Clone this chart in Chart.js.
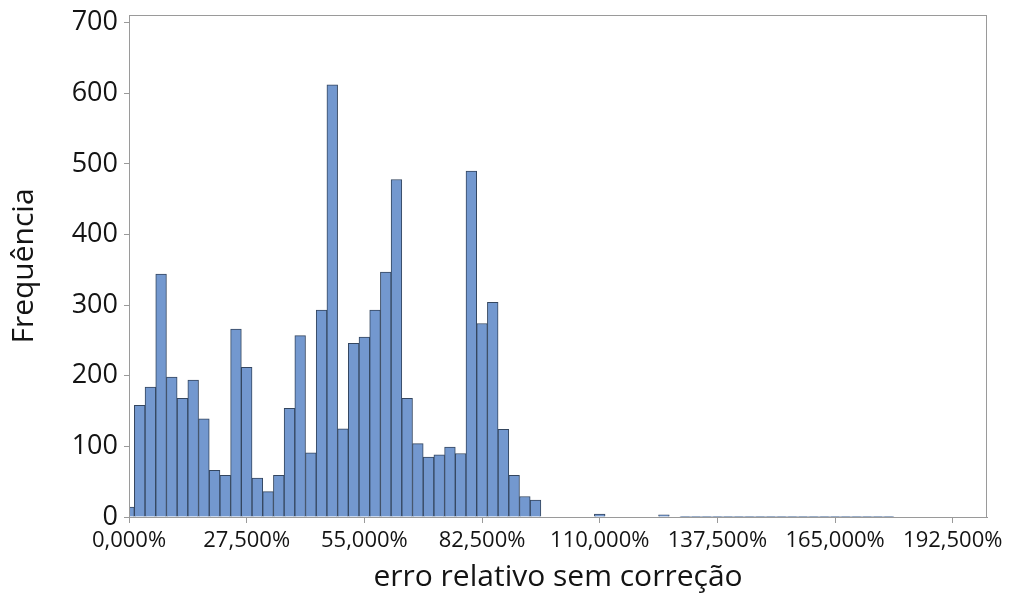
<!DOCTYPE html>
<html>
<head>
<meta charset="utf-8">
<script src="https://cdn.jsdelivr.net/npm/chart.js@4.4.1/dist/chart.umd.min.js"></script>
<style>
    html, body { margin: 0; padding: 0; background: #fff; }
    #wrap { width: 1010px; height: 595px; }
</style>
</head>
<body>
<div id="wrap"><canvas id="histChart" width="1010" height="595"></canvas></div>
<script>
const binCenters = [
    0, 2.5, 5, 7.5, 10, 12.5, 15, 17.5, 20, 22.5,
    25, 27.5, 30, 32.5, 35, 37.5, 40, 42.5, 45, 47.5,
    50, 52.5, 55, 57.5, 60, 62.5, 65, 67.5, 70, 72.5,
    75, 77.5, 80, 82.5, 85, 87.5, 90, 92.5, 95,
    110, 125,
    130, 132.5, 135, 137.5, 140, 142.5, 145, 147.5, 150, 152.5,
    155, 157.5, 160, 162.5, 165, 167.5, 170, 172.5, 175, 177.5
];
const frequencies = [
    14, 158, 184, 344, 198, 168, 194, 139, 66, 59,
    266, 212, 55, 36, 59, 154, 257, 91, 293, 612,
    125, 246, 255, 293, 347, 478, 168, 104, 85, 88,
    99, 90, 490, 274, 304, 124, 59, 29, 24,
    4, 3,
    1, 1, 1, 1, 1, 1, 1, 1, 1, 1,
    1, 1, 1, 1, 1, 1, 1, 1, 1, 1
];
const xTicks = [0, 27.5, 55, 82.5, 110, 137.5, 165, 192.5];
const yTicks = [0, 100, 200, 300, 400, 500, 600, 700];

const axisGray = '#9a9a9a';
const textColor = '#141414';
const fontFamily = '"Open Sans", "Noto Sans", sans-serif';

// moldura em volta da área do gráfico
const frame = {
    id: 'frame',
    afterDraw(chart) {
        const { ctx, chartArea: a } = chart;
        ctx.save();
        ctx.strokeStyle = axisGray;
        ctx.lineWidth = 1;
        ctx.strokeRect(a.left + 0.5, a.top + 0.5, a.right - a.left - 1, a.bottom - a.top);
        ctx.restore();
    }
};

const ctx = document.getElementById('histChart').getContext('2d');
new Chart(ctx, {
    type: 'bar',
    data: {
        datasets: [{
            data: binCenters.map((c, i) => ({ x: c, y: frequencies[i] })),
            backgroundColor: '#7398cf',
            borderColor: '#34465f',
            borderWidth: 1,
            barPercentage: 1,
            categoryPercentage: 1,
            clip: 0
        }]
    },
    options: {
        responsive: false,
        animation: false,
        layout: { padding: { top: 15, right: 23, left: 0, bottom: 0 } },
        plugins: {
            legend: { display: false },
            tooltip: { enabled: false }
        },
        scales: {
            x: {
                type: 'linear',
                offset: false,
                min: 0,
                max: 200.5,
                afterBuildTicks: scale => { scale.ticks = xTicks.map(v => ({ value: v })); },
                afterFit: scale => {
                    scale.height = 78;
                    scale.paddingLeft = 0;
                    scale.paddingRight = 0;
                },
                grid: { offset: false, drawOnChartArea: false, drawTicks: true, tickLength: 6, color: axisGray },
                border: { display: true, color: axisGray },
                ticks: {
                    autoSkip: false,
                    maxRotation: 0,
                    padding: 5,
                    color: textColor,
                    font: { family: fontFamily, size: 22 },
                    callback: v => v.toFixed(3).replace('.', ',') + '%'
                },
                title: {
                    display: true,
                    text: 'erro relativo sem correção',
                    color: textColor,
                    font: { family: fontFamily, size: 30 },
                    padding: { top: 0, bottom: 0 }
                }
            },
            y: {
                min: 0,
                max: 711,
                afterBuildTicks: scale => { scale.ticks = yTicks.map(v => ({ value: v })); },
                afterFit: scale => {
                    scale.width = 129;
                    scale.paddingTop = 0;
                    scale.paddingBottom = 0;
                },
                grid: { drawOnChartArea: false, drawTicks: true, tickLength: 5, color: axisGray },
                border: { display: true, color: axisGray },
                ticks: {
                    padding: 6,
                    color: textColor,
                    font: { family: fontFamily, size: 27 }
                },
                title: {
                    display: true,
                    text: 'Frequência',
                    color: textColor,
                    font: { family: fontFamily, size: 30 },
                    padding: { top: 6, bottom: 0 }
                }
            }
        }
    },
    plugins: [frame]
});
</script>
</body>
</html>
